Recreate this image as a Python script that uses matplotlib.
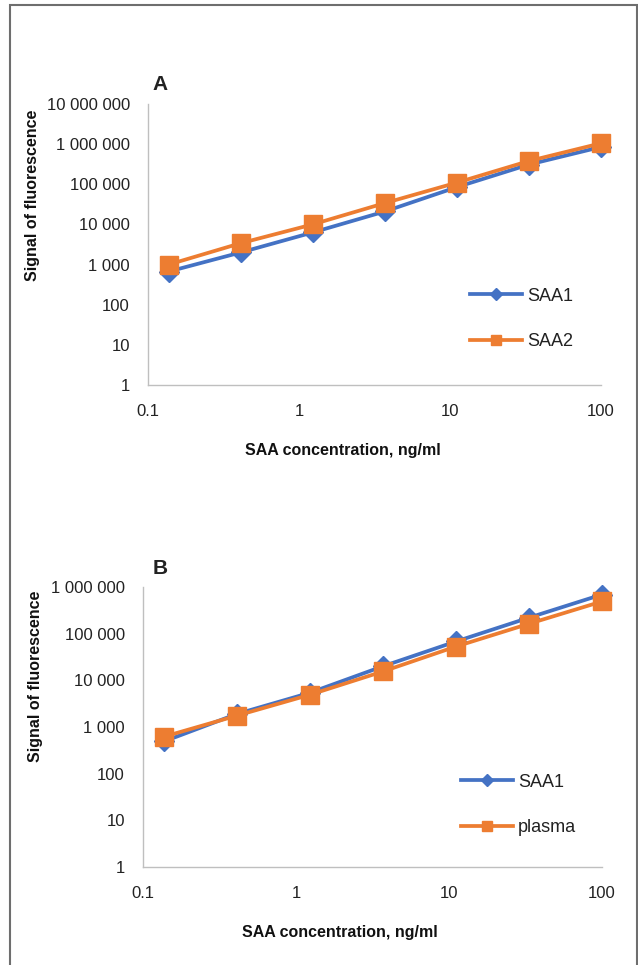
import matplotlib
matplotlib.use("Agg")
import matplotlib.pyplot as plt
from matplotlib.ticker import FixedLocator, FuncFormatter, NullLocator
from matplotlib.patches import Rectangle
from matplotlib.lines import Line2D

plt.rcParams['font.family'] = ['Liberation Sans', 'DejaVu Sans']

# ---- data ----
conc = [0.137, 0.41, 1.23, 3.7, 11.1, 33.3, 100]

a_saa1 = [670, 2000, 6300, 21000, 85000, 310000, 850000]
a_saa2 = [1000, 3400, 10000, 34000, 110000, 380000, 1050000]

b_saa1 = [490, 1900, 5400, 20000, 68000, 220000, 690000]
b_plasma = [620, 1750, 4900, 15500, 53000, 163000, 490000]

labels_a = ["SAA1", "SAA2"]
labels_b = ["SAA1", "plasma"]
x_label = "SAA concentration, ng/ml"
y_label = "Signal of fluorescence"
x_ticks = [0.1, 1, 10, 100]

BLUE = "#4472C4"
ORANGE = "#ED7D31"

W, H = 638, 965
fig = plt.figure(figsize=(W / 100, H / 100), dpi=100)

# frame around figure
fig.add_artist(Rectangle((10 / W, -0.01), (637 - 10) / W, (H - 5) / H + 0.01,
                         transform=fig.transFigure, fill=False,
                         edgecolor="#6e6e6e", linewidth=1.5))


def space_fmt(v, pos):
    if v >= 1:
        return f"{int(round(v)):,}".replace(",", " ")
    return f"{v:g}"


def make_panel(rect, s1, s2, labs, ymax, letter, leg_xy, leg_sep, letter_xy, ylab_xy, xlab_xy):
    ax = fig.add_axes(rect)
    ax.set_xscale("log")
    ax.set_yscale("log")
    ax.set_xlim(0.1, 100)
    ax.set_ylim(1, ymax)
    ax.plot(conc, s1, color=BLUE, lw=2.7, marker="D", ms=10, mec=BLUE, mfc=BLUE,
            zorder=3, clip_on=False)
    ax.plot(conc, s2, color=ORANGE, lw=2.7, marker="s", ms=12.5, mec=ORANGE, mfc=ORANGE,
            zorder=4, clip_on=False)
    for s in ["top", "right"]:
        ax.spines[s].set_visible(False)
    for s in ["left", "bottom"]:
        ax.spines[s].set_color("#bfbfbf")
        ax.spines[s].set_linewidth(1.0)
    ax.xaxis.set_major_locator(FixedLocator(x_ticks))
    ax.xaxis.set_minor_locator(NullLocator())
    ax.yaxis.set_minor_locator(NullLocator())
    ax.xaxis.set_major_formatter(FuncFormatter(space_fmt))
    ax.yaxis.set_major_formatter(FuncFormatter(space_fmt))
    ax.tick_params(length=0, labelsize=12, colors="#222222", pad=13)
    ax.tick_params(axis="x", pad=13.5)

    fig.text(letter_xy[0] / W, 1 - letter_xy[1] / H, letter, fontsize=15,
             fontweight="bold", ha="center", va="center", color="#222222")
    fig.text(ylab_xy[0] / W, 1 - ylab_xy[1] / H, y_label, rotation=90, fontsize=11.5,
             fontweight="bold", ha="center", va="center", color="#111111")
    fig.text(xlab_xy[0] / W, 1 - xlab_xy[1] / H, x_label, fontsize=11.5,
             fontweight="bold", ha="center", va="center", color="#111111")

    handles = [
        Line2D([], [], color=BLUE, lw=2.7, marker="D", ms=6.5, mec=BLUE, mfc=BLUE),
        Line2D([], [], color=ORANGE, lw=2.7, marker="s", ms=7.5, mec=ORANGE, mfc=ORANGE),
    ]
    leg = ax.legend(handles, labs, loc="center left", frameon=False,
                    bbox_to_anchor=(leg_xy[0] / W, 1 - leg_xy[1] / H),
                    bbox_transform=fig.transFigure, fontsize=13,
                    handlelength=2.9, handletextpad=0.25, labelspacing=leg_sep,
                    borderpad=0)
    for t in leg.get_texts():
        t.set_color("#222222")
    return ax


make_panel([148 / W, 1 - 385 / H, 453 / W, 281 / H], a_saa1, a_saa2, labels_a, 1e7,
           "A", (461, 319), 1.6, (160, 84), (33, 195), (343, 451))
make_panel([143 / W, 1 - 867 / H, 459 / W, 280 / H], b_saa1, b_plasma, labels_b, 1e6,
           "B", (452, 805), 1.6, (160, 569), (36, 676), (340, 933))

fig.savefig("out.png", dpi=100)
